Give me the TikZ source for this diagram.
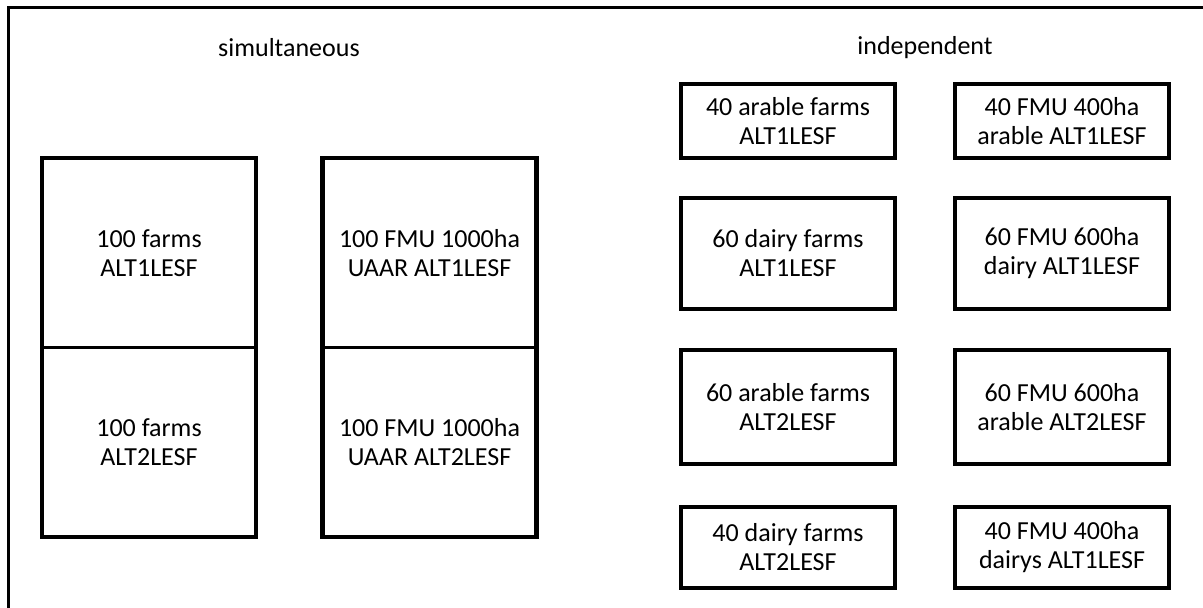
\documentclass[tikz,border=0pt]{standalone}
\usepackage{fontspec}
\setmainfont{Carlito}
\usetikzlibrary{positioning}

\begin{document}
\begin{tikzpicture}[x=0.5pt, y=-0.5pt,
        every node/.style={font=\fontsize{13}{14.5}\selectfont},
        halfbox/.style={minimum width=107pt, minimum height=94.75pt,
            align=center, inner sep=0pt, outer sep=0pt},
        farmbox/.style={draw, line width=2.2pt, minimum width=107pt,
            align=center, inner sep=0pt},
        rim/.style={line width=2.2pt},
        split/.style={line width=1.4pt}
    ]
    \useasboundingbox (0,0) rectangle (1203,608);

    % outer frame, cut by the page
    \draw[line width=1.5pt] (8,640) -- (8,8) -- (1240,8);

    % simultaneous
    \node (simtitle) at (289,48) {simultaneous};

    \node[halfbox] (s1a) at (149,252.75) {100 farms\\ALT1LESF};
    \node[halfbox, below=0pt of s1a] (s1b) {100 farms\\ALT2LESF};
    \draw[rim] (s1a.north west) rectangle (s1b.south east);
    \draw[split] (s1a.south west) -- (s1a.south east);

    \node[halfbox] (s2a) at (429.5,252.75) {100 FMU 1000ha\\UAAR ALT1LESF};
    \node[halfbox, below=0pt of s2a] (s2b) {100 FMU 1000ha\\UAAR ALT2LESF};
    \draw[rim] (s2a.north west) rectangle (s2b.south east);
    \draw[split] (s2a.south west) -- (s2a.south east);

    % independent
    \node (indtitle) at (925,48) {independent};

    \node[farmbox, minimum height=37pt] (i1) at (788,121) {40 arable farms\\ALT1LESF};
    \node[farmbox, minimum height=55.5pt] (i2) at (788,253.5) {60 dairy farms\\ALT1LESF};
    \node[farmbox, minimum height=57pt] (i3) at (788,407) {60 arable farms\\ALT2LESF};
    \node[farmbox, minimum height=40.5pt] (i4) at (788,547.5) {40 dairy farms\\ALT2LESF};

    \node[farmbox, minimum height=37pt] (f1) at (1062,121) {40 FMU 400ha\\arable ALT1LESF};
    \node[farmbox, minimum height=55.5pt] (f2) at (1062,253.5) {60 FMU 600ha\\dairy ALT1LESF};
    \node[farmbox, minimum height=57pt] (f3) at (1062,407) {60 FMU 600ha\\arable ALT2LESF};
    \node[farmbox, minimum height=40.5pt] (f4) at (1062,547.5) {40 FMU 400ha\\dairys ALT1LESF};

\end{tikzpicture}
\end{document}
